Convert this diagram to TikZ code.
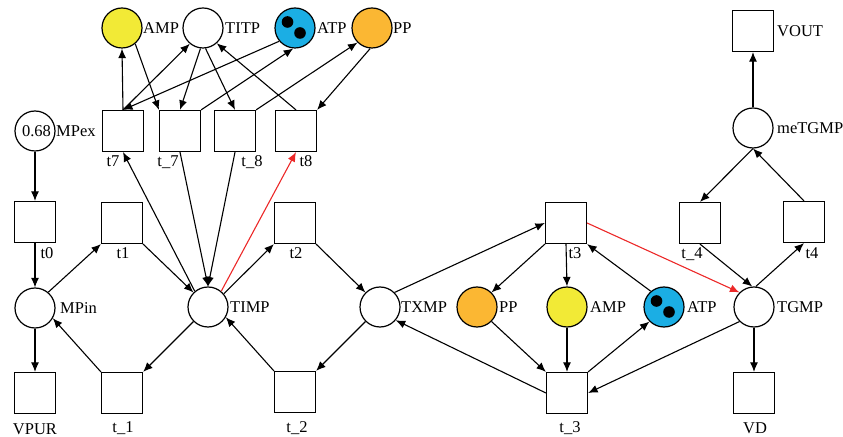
\documentclass[tikz,border=0pt]{standalone}
\usepackage{fontspec}
\setmainfont{Liberation Serif}
\usetikzlibrary{arrows.meta}
\definecolor{cyel}{RGB}{242,234,54}
\definecolor{corg}{RGB}{251,183,51}
\definecolor{cblu}{RGB}{27,174,228}
\definecolor{cred}{RGB}{236,40,40}
\tikzset{
  place/.style={circle,draw,line width=1.2bp,minimum size=40bp,inner sep=0pt,fill=white},
  trans/.style={rectangle,draw,line width=1.2bp,minimum size=41bp,inner sep=0pt,fill=white},
  lbl/.style={font=\fontsize{16.5bp}{20bp}\selectfont,inner sep=0pt},
  plbl/.style={lbl,anchor=west},
  tlbl/.style={lbl,anchor=base},
  arc/.style={line width=1.1bp,-{Latex[length=9.5bp,width=8bp]}},
  redarc/.style={arc,draw=cred},
  token/.style={fill=black}
}
\begin{document}
\begin{tikzpicture}[x=1bp,y=-1bp]
\useasboundingbox (0,0) rectangle (843,437);
% places
\node[place,fill=cyel] (AMPa) at (122,28) {};
\node[place] (TITP) at (203,28) {};
\node[place,fill=cblu] (ATPa) at (295,28) {};
\node[place,fill=corg] (PPa) at (372,28) {};
\node[place,font=\fontsize{16.5bp}{20bp}\selectfont] (MPex) at (35,131) {\hspace{3bp}0.68};
\node[place] (MPin) at (35,308) {};
\node[place] (TIMP) at (208,307) {};
\node[place] (TXMP) at (380,307) {};
\node[place,fill=corg] (PPb) at (477,307) {};
\node[place,fill=cyel] (AMPb) at (567,307) {};
\node[place,fill=cblu] (ATPb) at (664,307) {};
\node[place] (TGMP) at (754,307) {};
\node[place] (meTGMP) at (753,128) {};
% tokens
\fill[token] ([shift={(-7.5,-6)}]ATPa.center) circle[radius=5.8bp];
\fill[token] ([shift={(5,5)}]ATPa.center) circle[radius=5.8bp];
\fill[token] ([shift={(-7.5,-6)}]ATPb.center) circle[radius=5.8bp];
\fill[token] ([shift={(5,5)}]ATPb.center) circle[radius=5.8bp];
% transitions
\node[trans] (t7) at (123,131) {};
\node[trans] (tm7) at (180,131) {};
\node[trans] (tm8) at (235,131) {};
\node[trans] (t8) at (296,131) {};
\node[trans] (t0) at (35,222) {};
\node[trans] (t1) at (122,223) {};
\node[trans] (t2) at (295,223) {};
\node[trans] (t3) at (566,223) {};
\node[trans] (tm4) at (700,223) {};
\node[trans] (t4) at (804,222) {};
\node[trans] (VPUR) at (35,393) {};
\node[trans] (tm1) at (122,393) {};
\node[trans] (tm2) at (295,392) {};
\node[trans] (tm3) at (567,393) {};
\node[trans] (VD) at (754,393) {};
\node[trans] (VOUT) at (753,31) {};
% place labels
\node[plbl] (lAMPa) at (143,28.5) {AMP};
\node[plbl] (lTITP) at (225,28.5) {TITP};
\node[plbl] (lATPa) at (317,28.5) {ATP};
\node[plbl] (lPPa) at (393,28.5) {PP};
\node[plbl] (lMPex) at (56,131) {MPex};
\node[plbl] (lMPin) at (60,308) {MPin};
\node[plbl] (lTIMP) at (230,307) {TIMP};
\node[plbl] (lTXMP) at (401,307) {TXMP};
\node[plbl] (lPPb) at (499,307) {PP};
\node[plbl] (lAMPb) at (590,307) {AMP};
\node[plbl] (lATPb) at (687,307) {ATP};
\node[plbl] (lTGMP) at (777,307) {TGMP};
\node[plbl] (lmeTGMP) at (777,128) {meTGMP};
\node[plbl] (lVOUT) at (777,31) {VOUT};
% transition labels
\node[tlbl] (lt7) at (113,167) {t7};
\node[tlbl] (ltm7) at (168,167) {t\_7};
\node[tlbl] (ltm8) at (252,167) {t\_8};
\node[tlbl] (lt8) at (306,167) {t8};
\node[tlbl] (lt0) at (47,259) {t0};
\node[tlbl] (lt1) at (123,259) {t1};
\node[tlbl] (lt2) at (296,259) {t2};
\node[tlbl] (lt3) at (575,259) {t3};
\node[tlbl] (ltm4) at (692,259) {t\_4};
\node[tlbl] (lt4) at (812,259) {t4};
\node[tlbl] (lVPUR) at (35,434) {VPUR};
\node[tlbl] (ltm1) at (123,432) {t\_1};
\node[tlbl] (ltm2) at (297,432) {t\_2};
\node[tlbl] (ltm3) at (570,432) {t\_3};
\node[tlbl] (lVD) at (755,433) {VD};
% top arcs
\draw[arc] (t7.north) -- (AMPa.south);
\draw[arc] (AMPa.-50) -- (tm7.north west);
\draw[arc] (t7.north) -- (TITP.-130);
\draw[arc] (ATPa.-140) -- (t7.north);
\draw[arc] (TITP.-97) -- (tm7.north);
\draw[arc] (TITP.-83) -- (tm8.north);
\draw[arc] (tm7.north east) -- (ATPa.-95);
\draw[arc] (tm8.north east) -- (PPa.-135);
\draw[arc] (PPa.-95) -- (t8.north east);
\draw[arc] (t8.north) -- (TITP.-48);
% TIMP and top transitions
\draw[arc] (TIMP.130) -- (t7.south);
\draw[arc] (tm7.south) -- (TIMP.north);
\draw[arc] (tm8.south) -- (TIMP.north);
\draw[redarc] (TIMP.50) -- (t8.south);
% left part
\draw[arc] (MPex.south) -- (t0.north);
\draw[arc] (t0.south) -- (MPin.north);
\draw[arc] (MPin.south) -- (VPUR.north);
\draw[arc] (MPin.50) -- (t1.south west);
\draw[arc] (t1.south east) -- (TIMP.135);
\draw[arc] (TIMP.-135) -- (tm1.north east);
\draw[arc] (tm1.north west) -- (MPin.-30);
\draw[arc] (TIMP.40) -- (t2.south west);
\draw[arc] (t2.south east) -- (TXMP.135);
\draw[arc] (TXMP.-135) -- (tm2.north east);
\draw[arc] (tm2.north west) -- (TIMP.-30);
% middle part
\draw[arc] (TXMP.45) -- (t3.west);
\draw[arc] (tm3.west) -- (TXMP.-40);
\draw[arc] (t3.south west) -- (PPb.45);
\draw[arc] (t3.south) -- (AMPb.north);
\draw[arc] (ATPb.130) -- (t3.south east);
\draw[arc] (PPb.-45) -- (tm3.north west);
\draw[arc] (AMPb.south) -- (tm3.north);
\draw[arc] (tm3.north east) -- (ATPb.-135);
\draw[redarc] (t3.east) -- (TGMP.135);
\draw[arc] (TGMP.-135) -- (tm3.east);
% right part
\draw[arc] (tm4.south) -- (TGMP.95);
\draw[arc] (TGMP.85) -- (t4.south);
\draw[arc] (t4.north) -- (meTGMP.south);
\draw[arc] (meTGMP.south) -- (tm4.north);
\draw[arc] (meTGMP.north) -- (VOUT.south);
\draw[arc] (TGMP.south) -- (VD.north);
\end{tikzpicture}
\end{document}
